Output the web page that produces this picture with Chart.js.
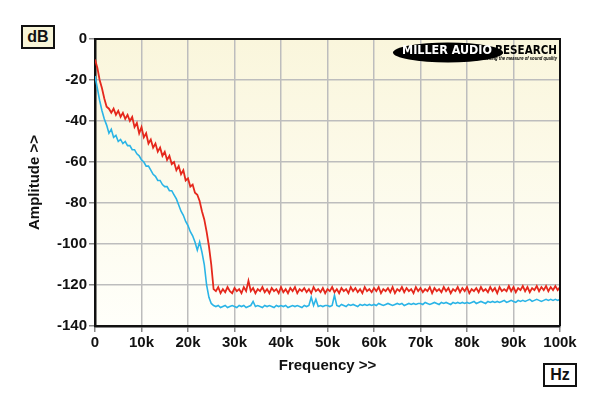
<!DOCTYPE html>
<html>
<head>
<meta charset="utf-8">
<script src="https://cdn.jsdelivr.net/npm/chart.js@4.4.1/dist/chart.umd.min.js"></script>
<style>
  html, body { margin: 0; padding: 0; background: #fff; }
  #wrap { position: relative; width: 600px; height: 396px; font-family: "Liberation Sans", Arial, sans-serif; }
  canvas { position: absolute; left: 0; top: 0; }
  .unit { position: absolute; border: 2px solid #111; font-weight: bold; font-size: 16px; text-align: center; line-height: 20px; color: #111; }
  #db { left: 21px; top: 25px; width: 30px; height: 20px; background: #f8f5d8; }
  #hz { left: 543px; top: 363px; width: 30px; height: 20px; background: #fff; }
</style>
</head>
<body>
<div id="wrap">
  <canvas id="chart" width="600" height="396"></canvas>
  <div class="unit" id="db">dB</div>
  <div class="unit" id="hz">Hz</div>
</div>
<script>
// frequency points in kHz
const freqKHz = [
  0, 0.5, 1, 1.5, 2, 2.5, 3, 3.5, 4, 4.5, 5, 5.5, 6, 6.5, 7, 7.5, 8, 8.5, 9, 9.5,
  10, 10.5, 11, 11.5, 12, 12.5, 13, 13.5, 14, 14.5, 15, 15.5, 16, 16.5, 17, 17.5, 18, 18.5, 19, 19.5,
  20, 20.5, 21, 21.5, 22, 22.5, 23, 23.5, 24, 24.5, 25, 25.5, 26, 26.5, 27, 27.5, 28, 28.5, 29, 29.5,
  30, 30.5, 31, 31.5, 32, 32.5, 33, 33.5, 34, 34.5, 35, 35.5, 36, 36.5, 37, 37.5, 38, 38.5, 39, 39.5,
  40, 40.5, 41, 41.5, 42, 42.5, 43, 43.5, 44, 44.5, 45, 45.5, 46, 46.5, 47, 47.5, 48, 48.5, 49, 49.5,
  50, 50.5, 51, 51.5, 52, 52.5, 53, 53.5, 54, 54.5, 55, 55.5, 56, 56.5, 57, 57.5, 58, 58.5, 59, 59.5,
  60, 60.5, 61, 61.5, 62, 62.5, 63, 63.5, 64, 64.5, 65, 65.5, 66, 66.5, 67, 67.5, 68, 68.5, 69, 69.5,
  70, 70.5, 71, 71.5, 72, 72.5, 73, 73.5, 74, 74.5, 75, 75.5, 76, 76.5, 77, 77.5, 78, 78.5, 79, 79.5,
  80, 80.5, 81, 81.5, 82, 82.5, 83, 83.5, 84, 84.5, 85, 85.5, 86, 86.5, 87, 87.5, 88, 88.5, 89, 89.5,
  90, 90.5, 91, 91.5, 92, 92.5, 93, 93.5, 94, 94.5, 95, 95.5, 96, 96.5, 97, 97.5, 98, 98.5, 99, 99.5,
  100
];

// red trace (dB)
const redDb = [
  -10, -14, -20, -24, -29, -33, -34, -36, -34, -37, -35, -38, -36, -39, -37, -40, -38, -43, -41, -46,
  -43, -48, -46, -51, -49, -53, -51, -55, -53, -57, -55, -59, -57, -61, -60, -64, -62, -66, -64, -69,
  -68, -72, -71, -75, -76, -79, -84, -88, -94, -101, -110, -122, -123, -121, -124, -122, -123.5, -121, -123, -124,
  -121.5, -123, -122, -124, -121, -123, -118, -123, -121.5, -124, -122, -123, -121, -123.5, -122, -124, -121.5, -123, -122, -124,
  -121, -123.5, -122, -124, -121.5, -123, -121, -124, -122, -123, -121.5, -123.5, -122, -124, -121, -123, -122, -123.5, -121.5, -124,
  -122, -123, -121, -123.5, -122, -124, -121.5, -123, -122, -124, -121, -123, -121.5, -123.5, -122, -124, -121, -123, -122, -123.5,
  -121.5, -123, -121, -124, -122, -123, -121.5, -123.5, -121, -124, -122, -123, -121, -123.5, -121.5, -123, -122, -124, -121, -123,
  -121.5, -123.5, -122, -123, -121, -124, -121.5, -123, -122, -123.5, -121, -123, -121.5, -124, -122, -123, -121, -123.5, -121.5, -123,
  -121, -124, -122, -123, -121.5, -123.5, -121, -123, -122, -123.5, -121, -123, -121.5, -124, -121, -123, -122, -123, -120.5, -123,
  -121, -123.5, -121.5, -122.5, -120.5, -123, -121, -123.5, -121.5, -122.5, -120.5, -123, -121, -122.5, -120.5, -123, -121, -122.5, -120.5, -122.5,
  -121
];

// blue trace (dB)
const blueDb = [
  -18, -24, -30, -35, -39, -42, -46, -44, -48, -47, -50, -49, -51, -50, -52, -52, -54, -54, -56, -57,
  -59, -60, -62, -62, -64, -66, -67, -69, -69, -71, -72, -72, -74, -74, -76, -78, -81, -84, -86, -89,
  -91, -94, -96, -99, -103, -99, -104, -110, -120, -126, -129, -130, -130.5, -130, -131, -130.5, -130, -131, -130.5, -130,
  -130.5, -131, -130, -130.5, -130, -131, -130.5, -130, -128, -130.5, -130, -130.5, -131, -130, -130.5, -130, -130.5, -131, -130, -130.5,
  -130, -130.5, -130, -131, -130.5, -130, -130.5, -130, -130.5, -131, -130, -130.5, -130, -126, -130, -127, -130.5, -130, -130.5, -130,
  -130, -130.5, -130, -125, -130, -130.5, -129.5, -130, -130.5, -129.5, -130, -129.5, -130, -130.5, -129.5, -130, -129.5, -130, -129.5, -130,
  -129.5, -130, -129, -129.5, -130, -129.5, -129, -129.5, -130, -129.5, -129, -129.5, -129, -130, -129.5, -129, -129.5, -129, -129.5, -129,
  -129, -129.5, -128.5, -129, -129.5, -129, -128.5, -129, -129.5, -128.5, -129, -128.5, -129, -129.5, -128.5, -129, -128.5, -129, -128.5, -129,
  -128.5, -129, -128.5, -128, -129, -128.5, -128, -128.5, -129, -128, -128.5, -128, -128.5, -128, -128.5, -128, -127.5, -128.5, -128, -127.5,
  -128, -128.5, -127.5, -128, -127.5, -128, -127.5, -127, -128, -127.5, -127, -127.5, -128, -127.5, -127, -127.5, -127, -127.5, -127, -127.5,
  -127
];

const yTicks = [0, -20, -40, -60, -80, -100, -120, -140];

function toPoints(vals) {
  return vals.map((v, i) => ({ x: freqKHz[i] * 1000, y: v }));
}

// draw text squeezed or stretched to a given width
function fitText(ctx, text, x, y, width) {
  const w = ctx.measureText(text).width;
  ctx.save();
  ctx.translate(x, y);
  ctx.scale(width / w, 1);
  ctx.fillText(text, 0, 0);
  ctx.restore();
}

// cream plot background, box frame and logo
const plotDecor = {
  id: 'plotDecor',
  beforeDraw(chart) {
    const { ctx, chartArea: a } = chart;
    const g = ctx.createLinearGradient(0, a.top, 0, a.bottom);
    g.addColorStop(0, '#faf6dc');
    g.addColorStop(1, '#fffffa');
    ctx.save();
    ctx.fillStyle = g;
    ctx.fillRect(a.left, a.top, a.right - a.left, a.bottom - a.top);
    ctx.restore();
  },
  afterDatasetsDraw(chart) {
    const { ctx, chartArea: a } = chart;
    ctx.save();
    ctx.strokeStyle = '#111';
    ctx.lineWidth = 2;
    ctx.beginPath();
    ctx.moveTo(a.left, a.top);
    ctx.lineTo(a.right, a.top);
    ctx.lineTo(a.right, a.bottom);
    ctx.stroke();

    // logo
    ctx.fillStyle = '#000';
    ctx.beginPath();
    ctx.ellipse(448, 52.5, 55, 10, 0, 0, Math.PI * 2);
    ctx.fill();
    ctx.font = 'bold 12px "DejaVu Sans", sans-serif';
    ctx.textBaseline = 'middle';
    ctx.textAlign = 'left';
    ctx.fillStyle = '#fff';
    fitText(ctx, 'MILLER AUDIO', 402, 51, 90);
    ctx.fillStyle = '#000';
    fitText(ctx, 'RESEARCH', 495, 51, 62);
    ctx.font = 'italic bold 5px "Liberation Sans", Arial, sans-serif';
    fitText(ctx, 'Getting the measure of sound quality', 483, 59, 74);
    ctx.restore();
  }
};

new Chart(document.getElementById('chart'), {
  type: 'line',
  data: {
    datasets: [
      {
        data: toPoints(redDb),
        borderColor: '#e5281c',
        borderWidth: 1.8,
        pointRadius: 0,
        tension: 0
      },
      {
        data: toPoints(blueDb),
        borderColor: '#2ab4e6',
        borderWidth: 1.6,
        pointRadius: 0,
        tension: 0
      }
    ]
  },
  options: {
    responsive: false,
    animation: false,
    events: [],
    layout: { padding: { top: 39, right: 40, left: 0, bottom: 0 } },
    plugins: { legend: { display: false }, tooltip: { enabled: false } },
    scales: {
      x: {
        type: 'linear',
        min: 0,
        max: 100000,
        afterFit(s) { s.height = 70; },
        border: { color: '#111', width: 2.5 },
        grid: { color: '#bdbdbd', lineWidth: 1.5, tickLength: 6, tickColor: '#888' },
        ticks: {
          stepSize: 10000,
          padding: 2,
          color: '#111',
          maxRotation: 0,
          font: { family: '"Liberation Sans", Arial, sans-serif', size: 15, weight: 'bold' },
          callback: v => v === 0 ? '0' : (v / 1000) + 'k'
        },
        title: {
          display: true,
          text: 'Frequency >>',
          color: '#111',
          padding: { bottom: 21 },
          font: { family: '"Liberation Sans", Arial, sans-serif', size: 15, weight: 'bold' }
        }
      },
      y: {
        min: -140,
        max: 0,
        afterFit(s) { s.width = 95; },
        afterBuildTicks(s) { s.ticks = yTicks.map(v => ({ value: v })); },
        border: { color: '#111', width: 2.5 },
        grid: { color: '#bdbdbd', lineWidth: 1.5, tickLength: 6, tickColor: '#888' },
        ticks: {
          padding: 2,
          color: '#111',
          font: { family: '"Liberation Sans", Arial, sans-serif', size: 15, weight: 'bold' }
        },
        title: {
          display: true,
          text: 'Amplitude >>',
          color: '#111',
          padding: { top: 26 },
          font: { family: '"Liberation Sans", Arial, sans-serif', size: 15, weight: 'bold' }
        }
      }
    }
  },
  plugins: [plotDecor]
});
</script>
</body>
</html>
